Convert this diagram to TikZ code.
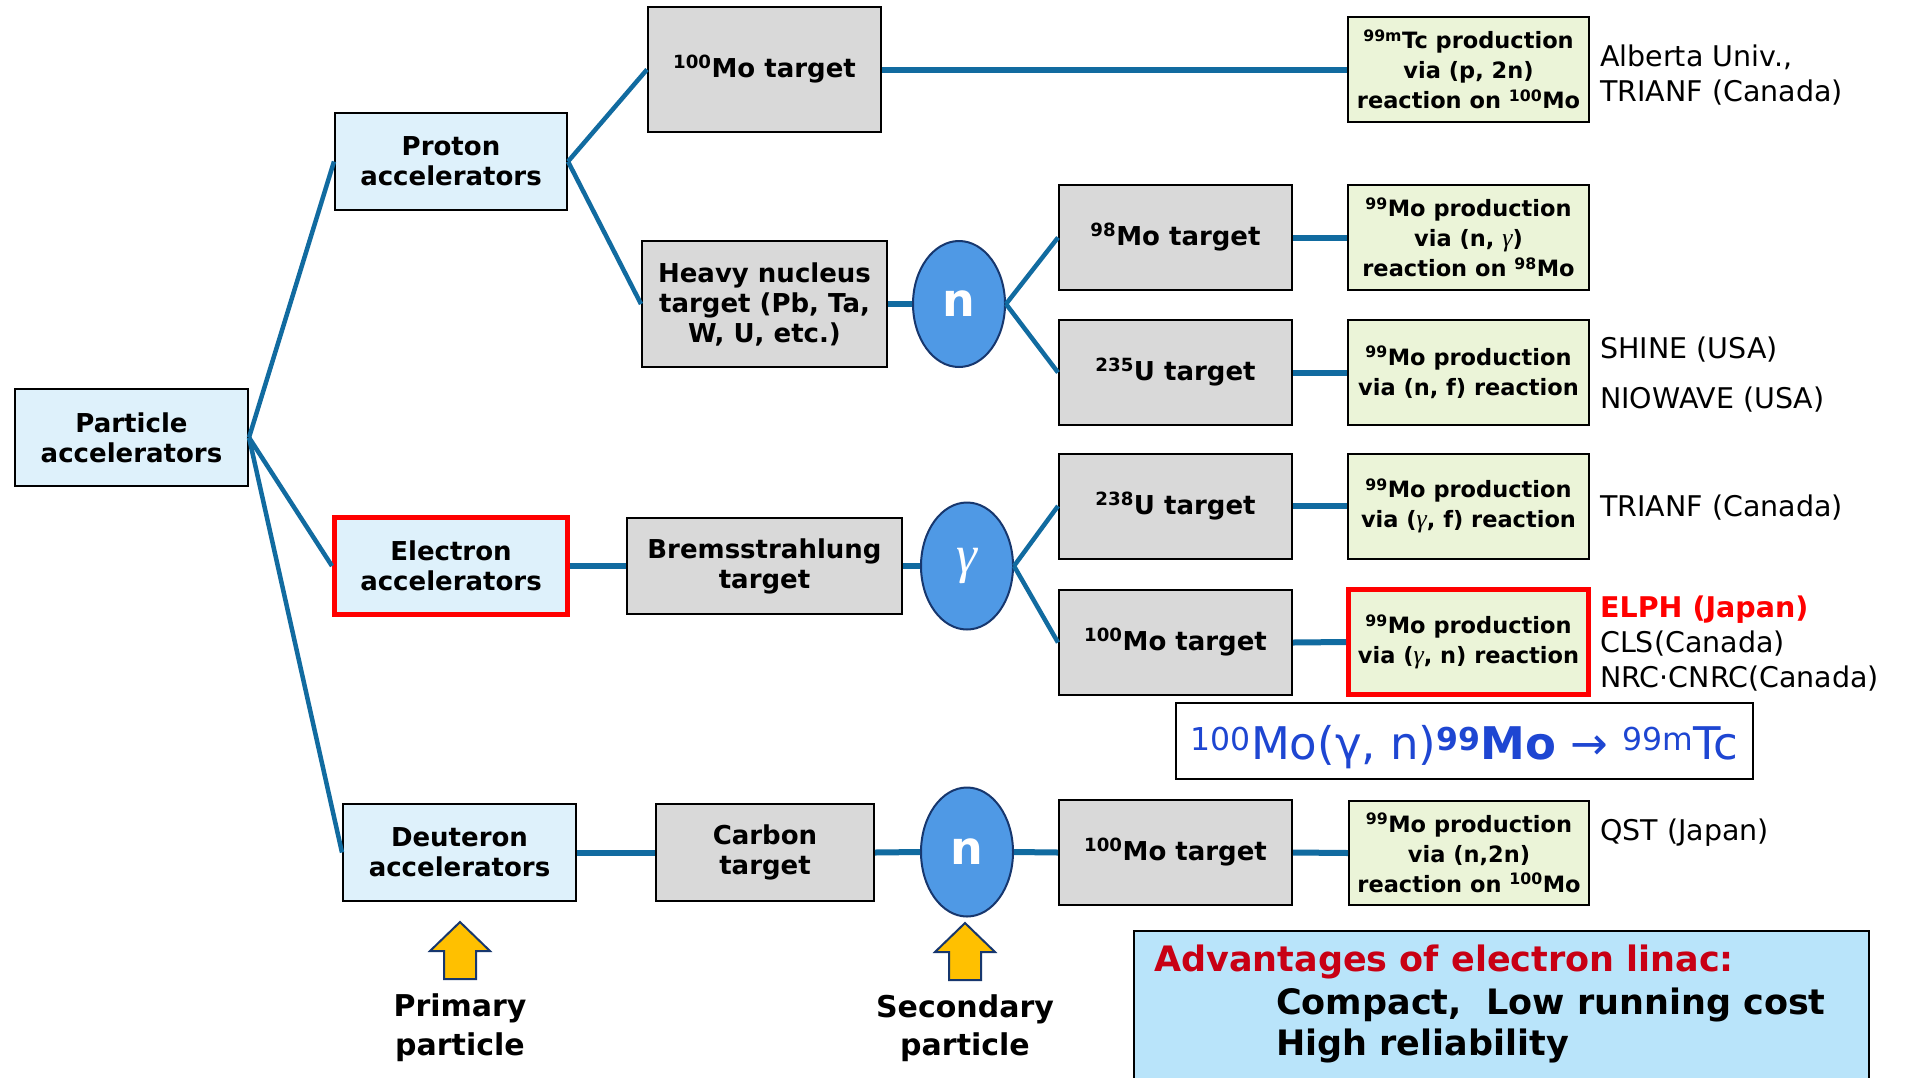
\documentclass[tikz,border=0pt]{standalone}
\usepackage{fontspec}
\setmainfont{DejaVu Sans}
\newfontfamily\gkserif[Scale=1.15]{Liberation Serif}
\newcommand{\gam}{{\gkserif\itshape\mdseries γ}}
\usetikzlibrary{shapes.geometric}
\definecolor{accblue}{RGB}{222,241,251}
\definecolor{tgtgray}{RGB}{217,217,217}
\definecolor{prodgreen}{RGB}{235,244,216}
\definecolor{advblue}{RGB}{185,228,250}
\definecolor{ellblue}{RGB}{79,153,229}
\definecolor{elldark}{RGB}{23,55,110}
\definecolor{conncol}{RGB}{17,107,160}
\definecolor{advred}{RGB}{200,0,20}
\definecolor{arrowyel}{RGB}{255,192,0}
\definecolor{eqblue}{RGB}{30,70,210}
\tikzset{
  box/.style={draw=black, line width=2pt, inner sep=0pt, align=center,
    font=\bfseries\fontsize{26}{30}\selectfont},
  accbox/.style={box, fill=accblue},
  tgtbox/.style={box, fill=tgtgray},
  prodbox/.style={box, fill=prodgreen, font=\bfseries\fontsize{22.5}{30}\selectfont},
  redframe/.style={draw=red, line width=5pt},
  particle/.style={ellipse, draw=elldark, line width=2pt, fill=ellblue, text=white,
    inner sep=0pt, minimum width=92pt},
  conn/.style={draw=conncol, line width=4.5pt},
  hconn/.style={draw=conncol, line width=6pt},
  lbl/.style={anchor=base west, inner sep=0pt, font=\fontsize{28.5}{30}\selectfont},
  bigtxt/.style={anchor=base, inner sep=0pt, font=\bfseries\fontsize{30}{40}\selectfont},
  advtxt/.style={anchor=base west, inner sep=0pt, font=\bfseries\fontsize{35}{44}\selectfont},
  uparrow/.style={draw=elldark, line width=2pt, fill=arrowyel, line join=miter},
}
\begin{document}
\begin{tikzpicture}[x=1pt, y=-1pt]
\clip (0,0) rectangle (1908,1077);
\fill[white] (0,0) rectangle (1908,1077);

% accelerators
\node[accbox, minimum width=233pt, minimum height=97pt] (pa) at (131.5,437.5) {Particle\\accelerators};
\node[accbox, minimum width=232pt, minimum height=97pt] (pr) at (451,161.5) {Proton\\accelerators};
\node[accbox, redframe, minimum width=233pt, minimum height=97pt] (el) at (451,566) {Electron\\accelerators};
\node[accbox, minimum width=233pt, minimum height=97pt] (de) at (459.5,852.5) {Deuteron\\accelerators};

% first targets
\node[tgtbox, minimum width=233pt, minimum height=125pt] (mo1) at (764.5,69.5) {\textsuperscript{100}Mo target};
\node[tgtbox, minimum width=245pt, minimum height=126pt] (hv) at (764.5,304) {Heavy nucleus\\target (Pb, Ta,\\W, U, etc.)};
\node[tgtbox, minimum width=275pt, minimum height=96pt] (br) at (764.5,566) {Bremsstrahlung\\target};
\node[tgtbox, minimum width=218pt, minimum height=97pt] (cb) at (765,852.5) {Carbon\\target};

% secondary particles
\node[particle, minimum height=126pt, font=\bfseries\fontsize{46}{46}\selectfont] (n1) at (959,304) {n};
\node[particle, minimum height=127pt, font=\fontsize{46}{46}\selectfont] (g) at (967,566) {\gam};
\node[particle, minimum height=129pt, font=\bfseries\fontsize{46}{46}\selectfont] (n2) at (967,852) {n};

% second targets
\node[tgtbox, minimum width=233pt, minimum height=105pt] (t98) at (1175.5,237.5) {\textsuperscript{98}Mo target};
\node[tgtbox, minimum width=233pt, minimum height=105pt] (t235) at (1175.5,372.5) {\textsuperscript{235}U target};
\node[tgtbox, minimum width=233pt, minimum height=105pt] (t238) at (1175.5,506) {\textsuperscript{238}U target};
\node[tgtbox, minimum width=233pt, minimum height=105pt] (t100) at (1175.5,642.5) {\textsuperscript{100}Mo target};
\node[tgtbox, minimum width=233pt, minimum height=105pt] (t100b) at (1175.5,852.5) {\textsuperscript{100}Mo target};

% production boxes
\node[prodbox, minimum width=241pt, minimum height=105pt] (p1) at (1468.5,69.5) {\textsuperscript{99m}Tc production\\via (p, 2n)\\reaction on \textsuperscript{100}Mo};
\node[prodbox, minimum width=241pt, minimum height=105pt] (p2) at (1468.5,237.5) {\textsuperscript{99}Mo production\\via (n, \gam)\\reaction on \textsuperscript{98}Mo};
\node[prodbox, minimum width=241pt, minimum height=105pt] (p3) at (1468.5,372.5) {\textsuperscript{99}Mo production\\via (n, f) reaction};
\node[prodbox, minimum width=241pt, minimum height=105pt] (p4) at (1468.5,506) {\textsuperscript{99}Mo production\\via (\gam, f) reaction};
\node[prodbox, redframe, minimum width=240pt, minimum height=105pt] (p5) at (1468.5,642) {\textsuperscript{99}Mo production\\via (\gam, n) reaction};
\node[prodbox, minimum width=240pt, minimum height=104pt] (p6) at (1469,853) {\textsuperscript{99}Mo production\\via (n,2n)\\reaction on \textsuperscript{100}Mo};

% equation
\node[draw=black, line width=2pt, fill=white, minimum width=577pt, minimum height=76pt, inner sep=0pt,
  text=eqblue, font=\fontsize{45}{50}\selectfont] (eq) at (1464.5,741)
  {\raisebox{-6pt}[\height][\depth]{\textsuperscript{100}Mo(γ, n)\textsuperscript{\bfseries 99}\textbf{Mo} → \textsuperscript{99m}Tc}};

% facility labels
\node[lbl] (lab1) at (1600,66) {Alberta Univ.,};
\node[lbl] (lab2) at (1600,101) {TRIANF (Canada)};
\node[lbl] (lab3) at (1600,358) {SHINE (USA)};
\node[lbl] (lab4) at (1600,408) {NIOWAVE (USA)};
\node[lbl] (lab5) at (1600,516) {TRIANF (Canada)};
\node[lbl, text=red, font=\bfseries\fontsize{28.5}{30}\selectfont] (lab6) at (1600,617) {ELPH (Japan)};
\node[lbl] (lab7) at (1600,652) {CLS(Canada)};
\node[lbl] (lab8) at (1600,687) {NRC·CNRC(Canada)};
\node[lbl] (lab9) at (1600,840) {QST (Japan)};

% connectors
\draw[conn] (pa.east) -- (pr.west);
\draw[conn] (pa.east) -- (el.west);
\draw[conn] (pa.east) -- (de.west);
\draw[conn] (pr.east) -- (mo1.west);
\draw[conn] (pr.east) -- (hv.west);
\draw[hconn] (mo1.east) -- (p1.west);
\draw[hconn] (hv.east) -- (n1.west);
\draw[conn] (n1.east) -- (t98.west);
\draw[conn] (n1.east) -- (t235.west);
\draw[hconn] (t98.east) -- (p2.west);
\draw[hconn] (t235.east) -- (p3.west);
\draw[hconn] (el.east) -- (br.west);
\draw[hconn] (br.east) -- (g.west);
\draw[conn] (g.east) -- (t238.west);
\draw[conn] (g.east) -- (t100.west);
\draw[hconn] (t238.east) -- (p4.west);
\draw[hconn] (t100.east) -- (p5.west);
\draw[hconn] (de.east) -- (cb.west);
\draw[hconn] (cb.east) -- (n2.west);
\draw[hconn] (n2.east) -- (t100b.west);
\draw[hconn] (t100b.east) -- (p6.west);

% arrows and captions
\draw[uparrow] (444,979) -- (444,951) -- (430,951) -- (460,922) -- (490,951) -- (476,951) -- (476,979) -- cycle;
\draw[uparrow] (949,980) -- (949,952) -- (935,952) -- (965,923) -- (995,952) -- (981,952) -- (981,980) -- cycle;
\node[bigtxt] (prim1) at (460,1016) {Primary};
\node[bigtxt] (prim2) at (460,1055) {particle};
\node[bigtxt] (sec1) at (965,1017) {Secondary};
\node[bigtxt] (sec2) at (965,1055) {particle};

% advantages box
\node[draw=black, line width=2pt, fill=advblue, minimum width=735pt, minimum height=170pt, inner sep=0pt] (adv) at (1501.5,1016) {};
\node[advtxt, text=advred] (adv1) at (1154,971) {Advantages of electron linac:};
\node[advtxt] (adv2) at (1276,1014) {Compact,\ \ Low running cost};
\node[advtxt] (adv3) at (1276,1055) {High reliability};
\end{tikzpicture}
\end{document}
